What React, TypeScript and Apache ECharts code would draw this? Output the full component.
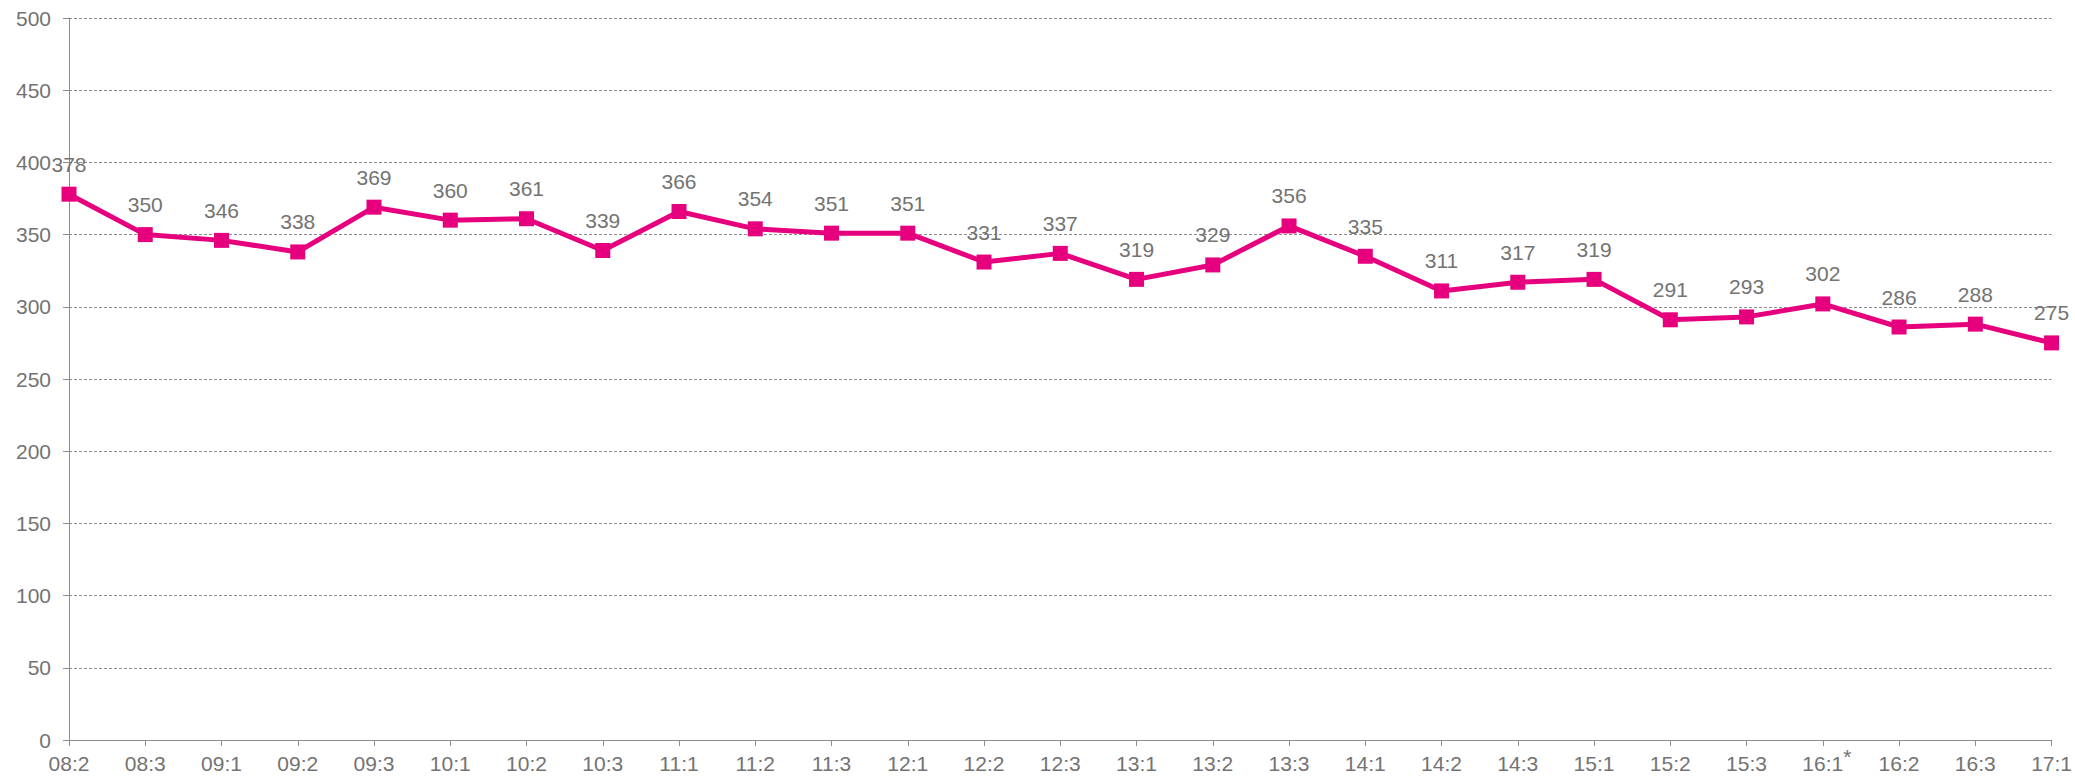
import React, { useEffect, useRef } from "react";
import * as echarts from "echarts";

const categories = ["08:2", "08:3", "09:1", "09:2", "09:3", "10:1", "10:2", "10:3", "11:1", "11:2", "11:3", "12:1", "12:2", "12:3", "13:1", "13:2", "13:3", "14:1", "14:2", "14:3", "15:1", "15:2", "15:3", "16:1*", "16:2", "16:3", "17:1"];
const values = [378, 350, 346, 338, 369, 360, 361, 339, 366, 354, 351, 351, 331, 337, 319, 329, 356, 335, 311, 317, 319, 291, 293, 302, 286, 288, 275];

const GRAY = "#737373";
const FONT = "Liberation Sans, Arial, sans-serif";
const FS = 21;

export default function App() {
  const ref = useRef<HTMLDivElement>(null);
  useEffect(() => {
    const chart = echarts.init(ref.current!, null, { renderer: "svg" });
    chart.setOption({
      animation: false,
      backgroundColor: "#ffffff",
      grid: { left: 69, right: 22, top: 18, bottom: 37, containLabel: false },
      xAxis: {
        type: "category",
        data: categories,
        boundaryGap: false,
        axisLine: { lineStyle: { color: "#8c8c8c", width: 1 } },
        axisTick: { show: true, length: 6, alignWithLabel: true, lineStyle: { color: "#8c8c8c" } },
        axisLabel: {
          interval: 0,
          margin: 6,
          color: GRAY,
          fontSize: FS,
          fontFamily: FONT,
          formatter: (v: string) => (v.endsWith("*") ? "{b|" + v.slice(0, -1) + "}{s|*}" : "{a|" + v + "}"),
          rich: {
            a: { fontSize: FS, color: GRAY, fontFamily: FONT, padding: [7, 0, 0, 0] },
            b: { fontSize: FS, color: GRAY, fontFamily: FONT, padding: [7, 0, 0, 8] },
            s: { fontSize: FS, color: GRAY, fontFamily: FONT, padding: [0, 0, 7, 0] },
          },
        },
        splitLine: { show: false },
      },
      yAxis: {
        type: "value",
        min: 0,
        max: 500,
        interval: 50,
        axisLine: { show: true, lineStyle: { color: "#8c8c8c", width: 1 } },
        axisTick: { show: true, length: 6, lineStyle: { color: "#8c8c8c" } },
        axisLabel: { color: GRAY, fontSize: FS, fontFamily: FONT, margin: 18 },
        splitLine: { show: true, lineStyle: { color: "#8c8c8c", type: [3, 2], width: 1 } },
      },
      series: [
        {
          type: "line",
          data: values,
          symbol: "rect",
          symbolSize: 15,
          lineStyle: { color: "#e6007e", width: 5 },
          itemStyle: { color: "#e6007e" },
          label: {
            show: true,
            position: "top",
            distance: 12,
            color: GRAY,
            fontSize: FS,
            fontFamily: FONT,
          },
        },
      ],
    });
    return () => chart.dispose();
  }, []);
  return <div ref={ref} style={{ position: "fixed", left: 0, top: 0, width: 2075, height: 777 }} />;
}
